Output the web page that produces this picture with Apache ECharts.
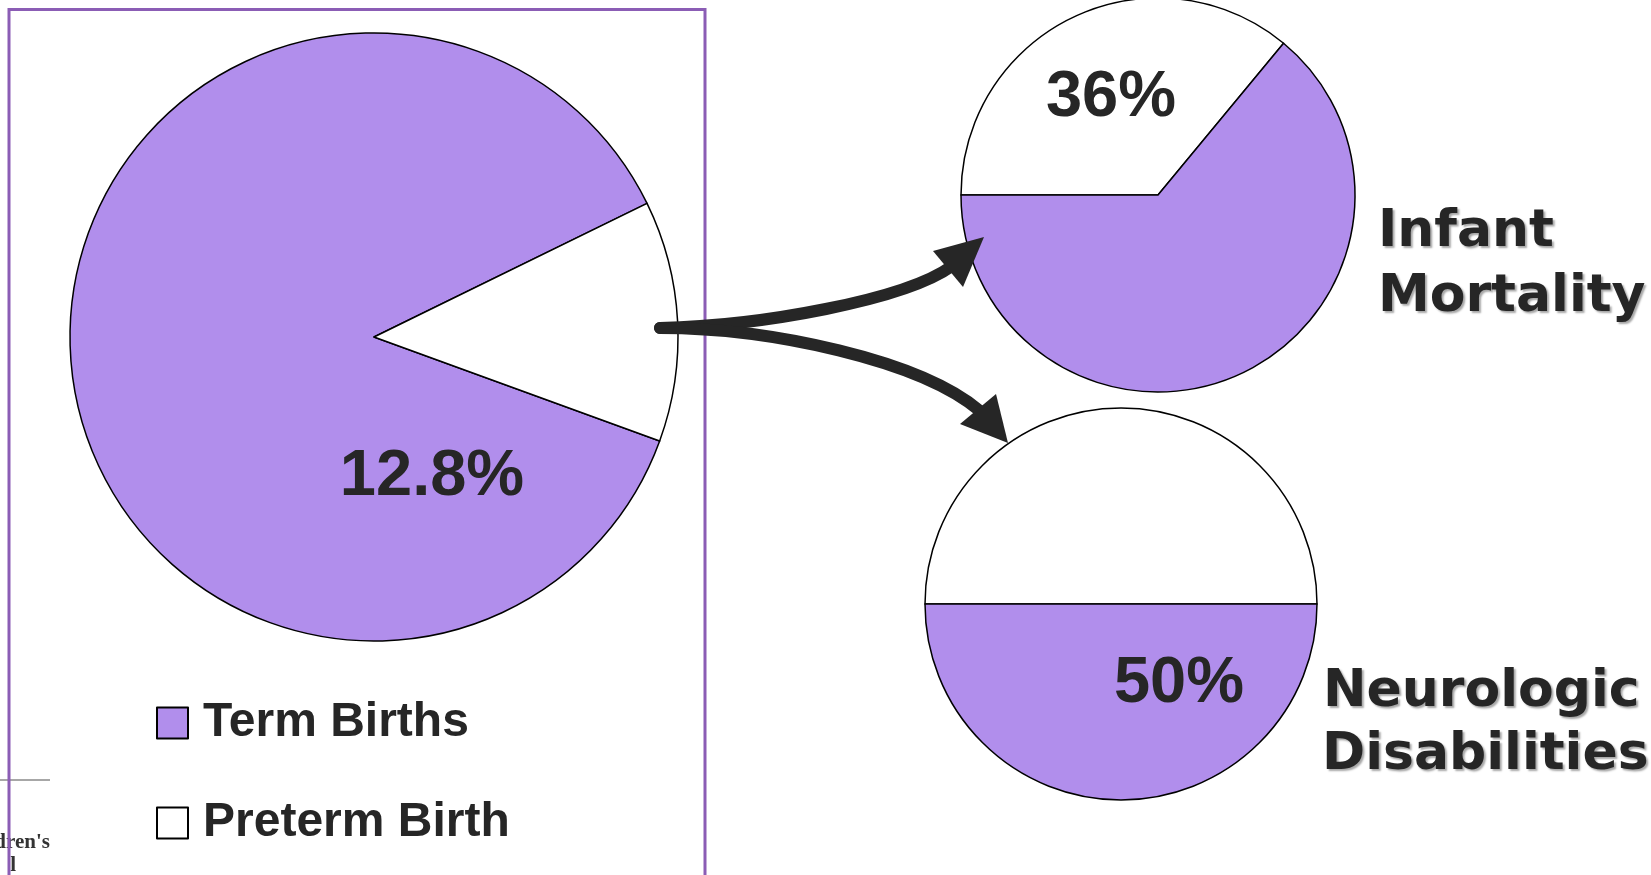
<!DOCTYPE html>
<html>
<head>
<meta charset="utf-8">
<script src="https://cdn.jsdelivr.net/npm/echarts@6/dist/echarts.min.js"></script>
<style>html,body{margin:0;padding:0;background:#fff}#c{width:1651px;height:875px}</style>
</head>
<body>
<div id="c"></div>
<script>
// ---- data ----
const birthNames = ['Term Births', 'Preterm Birth'];
const birthValues = [87.2, 12.8];
const mortalityNames = ['Preterm-related', 'Other causes'];
const mortalityValues = [36, 64];
const neuroNames = ['Preterm-related ', 'Other causes '];
const neuroValues = [50, 50];
const outcomeTitles = [['Infant', 'Mortality'], ['Neurologic', 'Disabilities']];

const PURPLE = '#B18EEC';
const WHITE = '#FFFFFF';
const TXT = '#262626';

const chart = echarts.init(document.getElementById('c'), null, {renderer: 'canvas'});

function pieSeries(names, values, colors, center, radius, startAngle) {
  return {
    type: 'pie',
    center: center,
    radius: radius,
    startAngle: startAngle,
    clockwise: true,
    animation: false,
    silent: true,
    label: {show: false},
    labelLine: {show: false},
    emphasis: {disabled: true},
    itemStyle: {borderColor: '#000', borderWidth: 1.5},
    data: names.map((n, i) => ({name: n, value: values[i], itemStyle: {color: colors[i]}}))
  };
}

const pctFont = {fontFamily: 'Liberation Sans, Arial, sans-serif', fontWeight: 'bold', fontSize: 65, fill: TXT};
const titleFont = {
  fontFamily: 'DejaVu Sans, Verdana, sans-serif', fontWeight: 'bold', fontSize: 52, fill: TXT,
  textShadowColor: 'rgba(0,0,0,0.35)', textShadowOffsetX: 2, textShadowOffsetY: 2, textShadowBlur: 2
};

const option = {
  backgroundColor: '#fff',
  animation: false,
  legend: {
    orient: 'vertical',
    left: 151,
    top: 694,
    icon: 'rect',
    itemWidth: 31,
    itemHeight: 31,
    itemGap: 52,
    selectedMode: false,
    data: birthNames,
    itemStyle: {borderColor: '#000', borderWidth: 2},
    textStyle: {
      fontFamily: 'Liberation Sans, Arial, sans-serif', fontWeight: 'bold', fontSize: 48,
      color: TXT, lineHeight: 48, padding: [0, 0, 0, 10]
    }
  },
  series: [
    pieSeries(birthNames, birthValues, [PURPLE, WHITE], [374, 337], 304, -20),
    pieSeries(mortalityNames, mortalityValues, [WHITE, PURPLE], [1158, 195], 197, 180),
    pieSeries(neuroNames, neuroValues, [WHITE, PURPLE], [1121, 604], 196, 180)
  ],
  graphic: [
    // frame
    {type: 'rect', z: 50, shape: {x: 9, y: 9.5, width: 696, height: 900},
     style: {fill: 'none', stroke: '#8B5DB5', lineWidth: 3}},
    // arrows
    {type: 'bezierCurve', z: 100,
     shape: {x1: 660, y1: 328, cpx1: 760, cpy1: 326, cpx2: 905, cpy2: 300, x2: 952, y2: 266},
     style: {stroke: TXT, lineWidth: 12, fill: 'none', lineCap: 'round'}},
    {type: 'polygon', z: 100, shape: {points: [[984, 237], [933, 251], [963, 287]]}, style: {fill: TXT}},
    {type: 'bezierCurve', z: 100,
     shape: {x1: 660, y1: 328, cpx1: 770, cpy1: 328, cpx2: 920, cpy2: 360, x2: 980, y2: 411},
     style: {stroke: TXT, lineWidth: 12, fill: 'none', lineCap: 'round'}},
    {type: 'polygon', z: 100, shape: {points: [[1008, 443], [960, 424], [996, 394]]}, style: {fill: TXT}},
    // percentage labels
    {type: 'text', z: 110, x: 432, y: 477,
     style: Object.assign({text: birthValues[1] + '%', align: 'center', verticalAlign: 'middle'}, pctFont)},
    {type: 'text', z: 110, x: 1111, y: 98,
     style: Object.assign({text: mortalityValues[0] + '%', align: 'center', verticalAlign: 'middle'}, pctFont)},
    {type: 'text', z: 110, x: 1179, y: 684,
     style: Object.assign({text: neuroValues[1] + '%', align: 'center', verticalAlign: 'middle'}, pctFont)},
    // outcome titles
    {type: 'text', z: 110, x: 1378, y: 232,
     style: Object.assign({text: outcomeTitles[0][0], align: 'left', verticalAlign: 'middle'}, titleFont)},
    {type: 'text', z: 110, x: 1378, y: 297,
     style: Object.assign({text: outcomeTitles[0][1], align: 'left', verticalAlign: 'middle'}, titleFont)},
    {type: 'text', z: 110, x: 1323, y: 692,
     style: Object.assign({text: outcomeTitles[1][0], align: 'left', verticalAlign: 'middle'}, titleFont)},
    {type: 'text', z: 110, x: 1322, y: 755,
     style: Object.assign({text: outcomeTitles[1][1], align: 'left', verticalAlign: 'middle'}, titleFont)},
    // cropped fragment bottom-left
    {type: 'line', z: 40, shape: {x1: 0, y1: 780, x2: 50, y2: 780}, style: {stroke: '#8a8a8a', lineWidth: 1.5}},
    {type: 'text', z: 40, x: 50, y: 843,
     style: {text: "dren's", align: 'right', verticalAlign: 'middle', fontFamily: 'Liberation Serif, serif',
             fontWeight: 'bold', fontSize: 21, fill: '#333'}},
    {type: 'text', z: 40, x: 16, y: 866,
     style: {text: "l", align: 'right', verticalAlign: 'middle', fontFamily: 'Liberation Serif, serif',
             fontWeight: 'bold', fontSize: 21, fill: '#333'}}
  ]
};
chart.setOption(option);
</script>
</body>
</html>
